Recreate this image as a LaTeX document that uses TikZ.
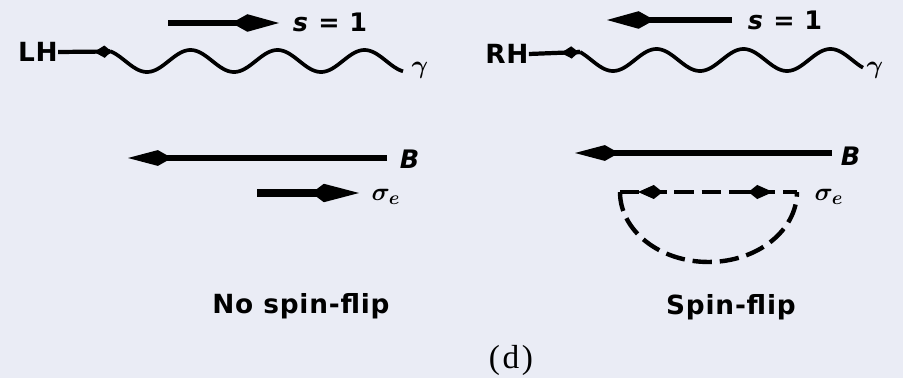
\documentclass[tikz,border=0pt]{standalone}
\usepackage{fontspec}
\usepackage{amsmath}
\usepackage{amssymb}
\usepackage{xcolor}
\usetikzlibrary{arrows.meta}
\newfontfamily\lblfont[LetterSpace=3]{DejaVu Sans}
\newfontfamily\figfont[LetterSpace=8]{Liberation Serif}
\definecolor{paper}{RGB}{234,236,245}

\begin{document}
\begin{tikzpicture}[
  x=0.02cm, y=-0.02cm,
  lbl/.style={inner sep=0pt,font=\lblfont\bfseries\fontsize{15}{18}\selectfont},  slbl/.style={inner sep=0pt,font=\lblfont\bfseries\fontsize{14.5}{17}\selectfont},  sym/.style={inner sep=0pt,font=\fontsize{15}{18}\selectfont},  spinarrow/.style={line width=3.6pt,-{Kite[length=27pt,width=10pt,inset=9pt]}},  fieldarrow/.style={line width=3pt,-{Kite[length=25pt,width=9pt,inset=8pt]}},  sigarrow/.style={line width=4.5pt,-{Kite[length=27pt,width=10.5pt,inset=7pt]}},  helarrow/.style={line width=2.4pt,-{Kite[length=10pt,width=7pt,inset=4pt]}},  wave/.style={line width=2.1pt},  flip/.style={line width=2.5pt,dash pattern=on 11pt off 4.5pt},  fliptip/.style={line width=2.5pt,-{Kite[length=14pt,width=8pt,inset=5pt]}}
]
  \fill[paper] (0,0) rectangle (903,378);
  \useasboundingbox (0,0) rectangle (903,378);
  % left panel
  \node[lbl] (lh) at (38,52) {LH};
  \node[slbl] (sl) at (330,22) {\textit{s} = 1};
  \node[sym] (gl) at (420,70) {$\boldsymbol{\gamma}$};
  \node[slbl] (bl) at (410,159) {\textit{B}};
  \node[sym] (el) at (386,197) {$\boldsymbol{\sigma_e}$};
  \node[lbl] (nf) at (301,306) {No spin-flip};
  \coordinate (sl0) at (168,23);
  \coordinate (sl1) at (279,23);
  \coordinate (lhw) at (110,51.5);
  \coordinate (lht) at (94,52);
  \coordinate (bl0) at (387,158);
  \coordinate (bl1) at (128,158);
  \coordinate (el0) at (257,193);
  \coordinate (el1) at (359,193);
  \draw[spinarrow] (sl0) -- (sl1);
  \draw[line width=2.4pt] (lhw) -- (lh.east);
  \draw[helarrow] (lhw) -- (lht);
  \draw[wave] plot[domain=110:403,samples=150] (\x,{61+11*cos(4.1379*(\x-147))});
  \draw[fieldarrow] (bl0) -- (bl1);
  \draw[sigarrow] (el0) -- (el1);
  % right panel
  \node[lbl] (rh) at (507,54) {RH};
  \node[slbl] (sr) at (785,20) {\textit{s} = 1};
  \node[sym] (gr) at (875,70) {$\boldsymbol{\gamma}$};
  \node[slbl] (br) at (851,156) {\textit{B}};
  \node[sym] (er) at (829,197) {$\boldsymbol{\sigma_e}$};
  \node[lbl] (sf) at (731,307) {Spin-flip};
  \coordinate (sr0) at (732,20);
  \coordinate (sr1) at (607,20);
  \coordinate (rhw) at (580,52);
  \coordinate (rht) at (561,53);
  \coordinate (br0) at (832,153);
  \coordinate (br1) at (575,153);
  \coordinate (fc0) at (620,192);
  \coordinate (fc1) at (797,192);
  \coordinate (ft0) at (664,192);
  \coordinate (ft1) at (638,192);
  \coordinate (ft2) at (747,192);
  \coordinate (ft3) at (773,192);
  \draw[spinarrow] (sr0) -- (sr1);
  \draw[line width=2.4pt] (rhw) -- (rh.east);
  \draw[helarrow] (rhw) -- (rht);
  \draw[wave] plot[domain=580:863,samples=150] (\x,{60+11*cos(4.1379*(\x-613))});
  \draw[fieldarrow] (br0) -- (br1);
  \draw[flip] (fc0) -- (fc1);
  \draw[flip] (fc0) arc[start angle=180,end angle=360,x radius=1.77cm,y radius=1.4cm];
  \draw[fliptip] (ft0) -- (ft1);
  \draw[fliptip] (ft2) -- (ft3);
  \node[font=\figfont\fontsize{19}{22}\selectfont,inner sep=0pt] (d) at (511,360) {(d)};
\end{tikzpicture}
\end{document}
